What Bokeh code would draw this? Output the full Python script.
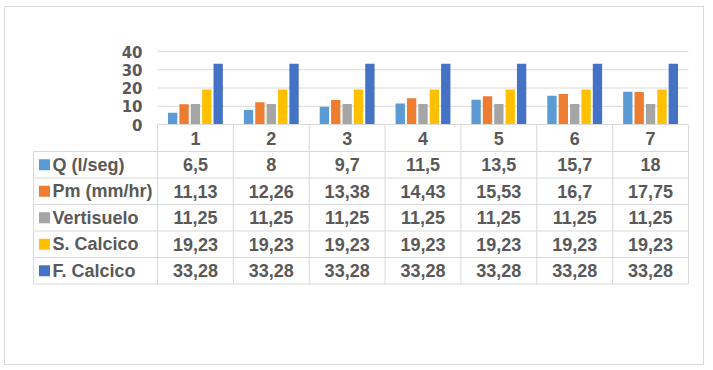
from bokeh.plotting import figure
from bokeh.models import Range1d, ColumnDataSource
from bokeh.core.properties import value
from bokeh.embed import file_html
from bokeh.resources import INLINE

# ---- data ----
categories = ["1", "2", "3", "4", "5", "6", "7"]
series_names = ["Q (l/seg)", "Pm (mm/hr)", "Vertisuelo", "S. Calcico", "F. Calcico"]
q_lseg = [6.5, 8, 9.7, 11.5, 13.5, 15.7, 18]
pm_mmhr = [11.13, 12.26, 13.38, 14.43, 15.53, 16.7, 17.75]
vertisuelo = [11.25, 11.25, 11.25, 11.25, 11.25, 11.25, 11.25]
s_calcico = [19.23, 19.23, 19.23, 19.23, 19.23, 19.23, 19.23]
f_calcico = [33.28, 33.28, 33.28, 33.28, 33.28, 33.28, 33.28]
y_ticks = [0, 10, 20, 30, 40]

series_values = [q_lseg, pm_mmhr, vertisuelo, s_calcico, f_calcico]
colors = ["#5B9BD5", "#ED7D31", "#A5A5A5", "#FFC000", "#4472C4"]

# ---- layout constants (page px) ----
W, H = 706, 366
FL, FT, FR, FB = 4, 6, 3, 2          # frame borders -> frame = outer box
FW, FH = W - FL - FR, H - FT - FB
PX_X = 531 / 7.0      # px per category
PX_V = 73 / 40.0      # px per value unit
ROW = 26.5            # table row height px
CAT_LEFT, ZERO_Y = 157, 124
ROW0 = 137.75
TABLE_LEFT = 33

x_start = 0.5 - (CAT_LEFT - FL) / PX_X
x_end = x_start + FW / PX_X
y_end = (ZERO_Y - FT) / PX_V
y_start = y_end - FH / PX_V
r_top = (FT - ROW0) / ROW
r_bottom = r_top + FH / ROW

n = len(categories)
xs = list(range(1, n + 1))
table_left = x_start + (TABLE_LEFT - FL) / PX_X
key_x = table_left + 11 / PX_X

FONT = value("Liberation Sans")
YFONT = value("DejaVu Sans")
TXT = "#595959"
LINE = "#D9D9D9"

p = figure(width=W, height=H, output_backend="svg", toolbar_location=None,
           x_range=Range1d(x_start, x_end), y_range=Range1d(y_start, y_end),
           x_axis_type=None, y_axis_type=None,
           min_border_left=FL, min_border_top=FT, min_border_right=FR, min_border_bottom=FB)
p.extra_y_ranges = {"table": Range1d(start=r_bottom, end=r_top)}
p.outline_line_color = LINE
p.outline_line_width = 1
p.background_fill_color = "white"
p.border_fill_color = "white"

# gridlines
grid_y = y_ticks[1:]
p.segment(x0=[0.5] * len(grid_y), x1=[n + 0.5] * len(grid_y), y0=grid_y, y1=grid_y,
          line_color=LINE, line_width=1)

# bars
offsets = [-0.3, -0.15, 0.0, 0.15, 0.3]
for j, (vals, col) in enumerate(zip(series_values, colors)):
    src = ColumnDataSource(dict(x=[x + offsets[j] for x in xs], top=vals))
    p.vbar(x="x", top="top", bottom=0, width=0.123, source=src,
           fill_color=col, line_color=None)

# zero line / table top
p.segment(x0=[0.5], x1=[n + 0.5], y0=[0], y1=[0], line_color=LINE, line_width=1)

# y tick labels
p.text(x=[0.5] * len(y_ticks), y=y_ticks, text=[str(t) for t in y_ticks],
       x_offset=-15, text_align="right", text_baseline="middle",
       text_font=YFONT, text_font_style="bold", text_font_size="15px", text_color=TXT)

# table grid
nrows = len(series_names)
hy = [k + 0.5 for k in range(nrows + 1)]
p.segment(x0=[table_left] * len(hy), x1=[n + 0.5] * len(hy), y0=hy, y1=hy,
          line_color=LINE, line_width=1, y_range_name="table")
vx = [k + 0.5 for k in range(n + 1)]
p.segment(x0=vx, x1=vx, y0=[-0.5] * len(vx), y1=[nrows + 0.5] * len(vx),
          line_color=LINE, line_width=1, y_range_name="table")
p.segment(x0=[table_left], x1=[table_left], y0=[0.5], y1=[nrows + 0.5],
          line_color=LINE, line_width=1, y_range_name="table")

# header row
p.text(x=xs, y=[0] * n, text=categories, text_align="center", text_baseline="middle",
       text_font=FONT, text_font_style="bold", text_font_size="18px", text_color=TXT,
       y_range_name="table")

# row labels + keys
rows = list(range(1, nrows + 1))
p.rect(x=[key_x] * nrows, y=rows, width=11, height=11, width_units="screen",
       height_units="screen", fill_color=colors, line_color=None, y_range_name="table")
p.text(x=[table_left] * nrows, y=rows, text=series_names, x_offset=19,
       text_align="left", text_baseline="middle",
       text_font=FONT, text_font_style="bold", text_font_size="18px", text_color=TXT,
       y_range_name="table")

# values
def fmt(v):
    return f"{v:g}".replace(".", ",")

cx, cy, ct = [], [], []
for k, vals in enumerate(series_values):
    for i, v in enumerate(vals):
        cx.append(xs[i]); cy.append(k + 1); ct.append(fmt(v))
p.text(x=cx, y=cy, text=ct, text_align="center", text_baseline="middle",
       text_font=FONT, text_font_style="bold", text_font_size="18px", text_color=TXT,
       y_range_name="table")

open("out.html", "w").write(file_html(p, INLINE))
